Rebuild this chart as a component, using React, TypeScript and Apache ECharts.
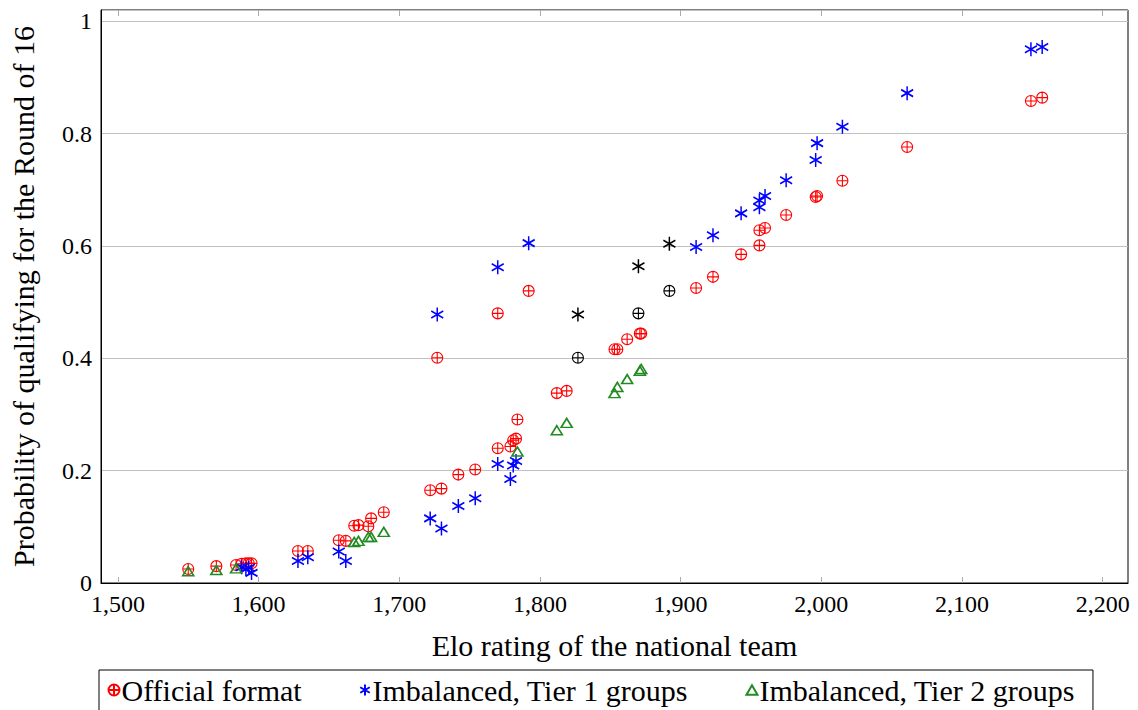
import React, { useEffect, useRef } from "react";
import * as echarts from "echarts";

const xTicks = [1500, 1600, 1700, 1800, 1900, 2000, 2100, 2200];
const yTicks = [0, 0.2, 0.4, 0.6, 0.8, 1];

const officialElo = [1550, 1570, 1584, 1588, 1591, 1593, 1595, 1628, 1635, 1657, 1662, 1668, 1671, 1678, 1680, 1689, 1722, 1727, 1730, 1742, 1754, 1770, 1770, 1779, 1781, 1783, 1784, 1792, 1812, 1819, 1853, 1855, 1862, 1871, 1872, 1911, 1923, 1943, 1956, 1956, 1960, 1975, 1996, 1997, 2015, 2061, 2149, 2157];
const officialProb = [0.025, 0.030, 0.032, 0.034, 0.035, 0.035, 0.035, 0.057, 0.057, 0.076, 0.075, 0.102, 0.103, 0.101, 0.115, 0.126, 0.165, 0.401, 0.168, 0.193, 0.202, 0.240, 0.480, 0.243, 0.254, 0.257, 0.291, 0.520, 0.338, 0.342, 0.416, 0.416, 0.434, 0.444, 0.444, 0.525, 0.545, 0.585, 0.601, 0.628, 0.632, 0.655, 0.687, 0.689, 0.716, 0.776, 0.858, 0.864];

const tier1Elo = [1588, 1591, 1593, 1595, 1628, 1635, 1657, 1662, 1722, 1727, 1730, 1742, 1754, 1770, 1770, 1779, 1781, 1783, 1792, 1911, 1923, 1943, 1956, 1956, 1960, 1975, 1996, 1997, 2015, 2061, 2149, 2157];
const tier1Prob = [0.028, 0.025, 0.027, 0.018, 0.039, 0.046, 0.056, 0.039, 0.115, 0.478, 0.097, 0.137, 0.151, 0.212, 0.562, 0.185, 0.209, 0.217, 0.605, 0.598, 0.619, 0.658, 0.669, 0.681, 0.689, 0.717, 0.753, 0.783, 0.812, 0.872, 0.950, 0.954];

const tier2Elo = [1550, 1570, 1584, 1668, 1671, 1678, 1680, 1689, 1784, 1812, 1819, 1853, 1855, 1862, 1871, 1872];
const tier2Prob = [0.021, 0.023, 0.026, 0.073, 0.075, 0.082, 0.082, 0.091, 0.234, 0.272, 0.285, 0.338, 0.349, 0.363, 0.378, 0.381];

const blackElo = [1827, 1870, 1892];
const blackOfficialProb = [0.401, 0.480, 0.520];
const blackTier1Prob = [0.478, 0.564, 0.604];

const seriesNames = ["Official format", "Imbalanced, Tier 1 groups", "Imbalanced, Tier 2 groups"];

const FONT = "'Liberation Serif', 'Times New Roman', serif";
const OPLUS = "path://M0,-1A1,1,0,1,1,0,1A1,1,0,1,1,0,-1ZM-1,0L1,0M0,-1L0,1";
const ASTER = "path://M0,-1L0,1M-0.866,-0.5L0.866,0.5M-0.866,0.5L0.866,-0.5";
const TRI = "path://M0,-1L0.866,0.5L-0.866,0.5Z";

const zip = (xs: number[], ys: number[]) => xs.map((x, i) => [x, ys[i]]);

export default function App() {
  const ref = useRef<HTMLDivElement>(null);
  useEffect(() => {
    document.body.style.margin = "0";
    const chart = echarts.init(ref.current!, null, { renderer: "svg" });
    const fmtX = (v: number) => v.toLocaleString("en-US");
    chart.setOption({
      animation: false,
      textStyle: { fontFamily: FONT },
      grid: { left: 98, right: 10, top: 10, bottom: 127, show: true, borderColor: "#000", borderWidth: 1 },
      legend: {
        data: seriesNames,
        left: 99,
        top: 670,
        orient: "horizontal",
        borderColor: "#000",
        borderWidth: 1,
        padding: [5, 18, 40, 7],
        itemGap: 56,
        itemWidth: 11,
        itemHeight: 11,
        textStyle: { fontFamily: FONT, fontSize: 30, color: "#000", padding: [0, 0, 0, -3] },
      },
      xAxis: [
        {
          type: "value",
          min: 1488,
          max: 2218,
          name: "Elo rating of the national team",
          nameLocation: "middle",
          nameGap: 47,
          nameTextStyle: { fontFamily: FONT, fontSize: 30, color: "#000" },
          axisLine: { show: true, lineStyle: { color: "#000" } },
          axisTick: { show: true, inside: true, length: 6, lineStyle: { color: "#aaa" }, customValues: xTicks },
          axisLabel: { customValues: xTicks, formatter: fmtX, fontFamily: FONT, fontSize: 24, color: "#000", margin: 9 },
          splitLine: { show: false },
        },
        {
          type: "value",
          position: "top",
          min: 1488,
          max: 2218,
          axisLine: { show: false },
          axisTick: { show: true, inside: true, length: 6, lineStyle: { color: "#aaa" }, customValues: xTicks },
          axisLabel: { show: false, customValues: xTicks },
          splitLine: { show: false },
        },
      ],
      yAxis: {
        type: "value",
        min: 0,
        max: 1.02,
        interval: 0.2,
        name: "Probability of qualifying for the Round of 16",
        nameLocation: "middle",
        nameGap: 63,
        nameTextStyle: { fontFamily: FONT, fontSize: 30, color: "#000" },
        axisLine: { show: true, lineStyle: { color: "#000" } },
        axisTick: { show: false },
        axisLabel: {
          fontFamily: FONT,
          fontSize: 24,
          color: "#000",
          margin: 9,
          formatter: (v: number) => (yTicks.some((t) => Math.abs(t - v) < 1e-6) ? String(Math.round(v * 10) / 10) : ""),
        },
        splitLine: { show: true, lineStyle: { color: "#c0c0c0", width: 1 } },
      },
      series: [
        {
          name: seriesNames[0],
          type: "scatter",
          data: zip(officialElo, officialProb),
          symbol: OPLUS,
          symbolSize: 11,
          itemStyle: { color: "none", borderColor: "#ff0000", borderWidth: 1.1, opacity: 1 },
          z: 3,
        },
        {
          name: seriesNames[1],
          type: "scatter",
          data: zip(tier1Elo, tier1Prob),
          symbol: ASTER,
          symbolSize: [12, 14],
          itemStyle: { color: "none", borderColor: "#0000ff", borderWidth: 1.6, opacity: 1 },
          z: 4,
        },
        {
          name: seriesNames[2],
          type: "scatter",
          data: zip(tier2Elo, tier2Prob),
          symbol: TRI,
          symbolSize: [11, 9],
          itemStyle: { color: "none", borderColor: "#228b22", borderWidth: 1.6, opacity: 1 },
          z: 5,
        },
        {
          name: "black-official",
          type: "scatter",
          data: zip(blackElo, blackOfficialProb),
          symbol: OPLUS,
          symbolSize: 11,
          itemStyle: { color: "none", borderColor: "#000", borderWidth: 1.1, opacity: 1 },
        },
        {
          name: "black-tier1",
          type: "scatter",
          data: zip(blackElo, blackTier1Prob),
          symbol: ASTER,
          symbolSize: [12, 14],
          itemStyle: { color: "none", borderColor: "#000", borderWidth: 1.6, opacity: 1 },
        },
      ],
    });
    return () => chart.dispose();
  }, []);
  return <div ref={ref} style={{ width: 1138, height: 710 }} />;
}
